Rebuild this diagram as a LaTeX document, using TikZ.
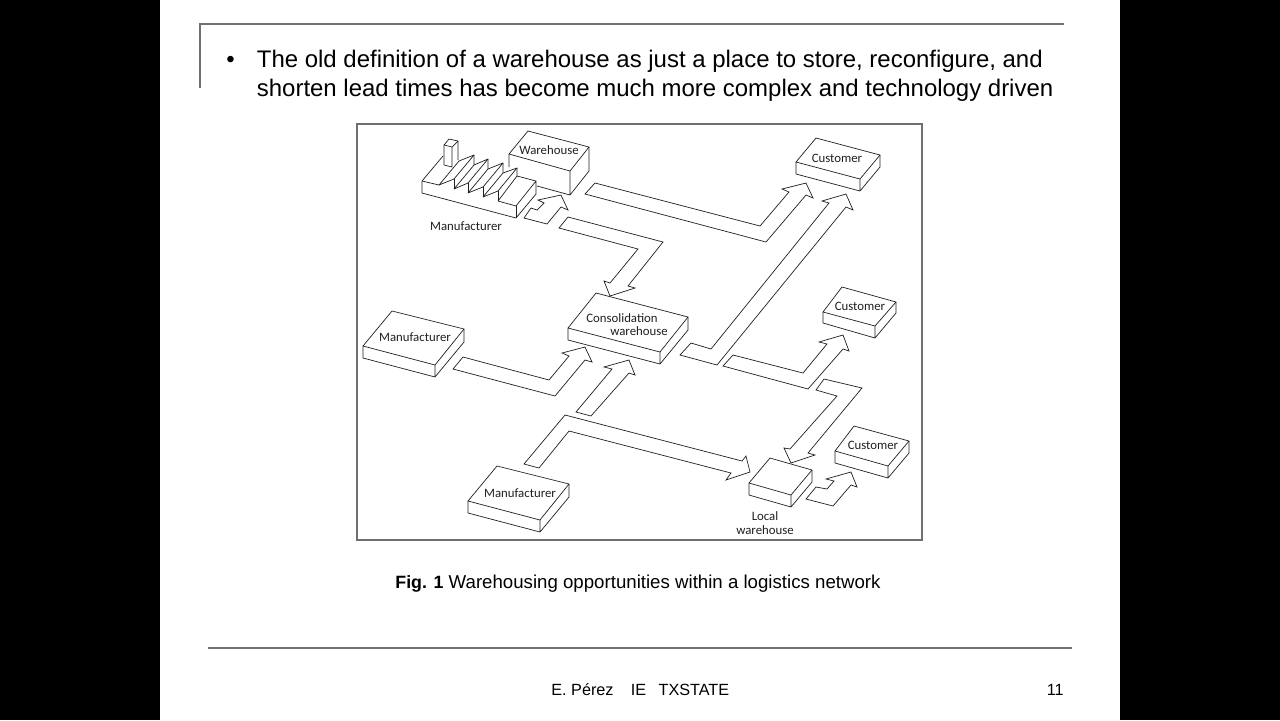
\documentclass[tikz,border=0pt]{standalone}
\usepackage{fontspec}
\setmainfont{Liberation Sans}
\newfontfamily\figfont{Carlito}
\definecolor{rulegray}{HTML}{707070}
\definecolor{framegray}{HTML}{707070}
\definecolor{inkgray}{HTML}{202020}

\tikzset{%
  % Specifications for style of nodes:
         slidetext/.style = {anchor=base west, inner sep=0pt, font=\fontsize{11.98}{14.5}\selectfont},
         captext/.style = {anchor=base west, inner sep=0pt, font=\fontsize{9.33}{11}\selectfont},
         foottext/.style = {anchor=base west, inner sep=0pt, font=\fontsize{8.1}{10}\selectfont},
         figlabel/.style = {inner sep=0pt, text=inkgray, font=\figfont\fontsize{6.4}{7}\selectfont},
  % Specifications for style of lines:
         rulebar/.style = {draw=rulegray, line width=1pt},
         isoedge/.style = {draw=inkgray, line width=0.35pt, line join=round},
         blockarrow/.style = {draw=inkgray, line width=0.35pt, line join=miter},
}

\begin{document}
\begin{tikzpicture}[x=0.5pt, y=-0.5pt]
    \useasboundingbox (0,0) rectangle (1280,720);
    \fill[white] (0,0) rectangle (1280,720);
    \fill[black] (0,0) rectangle (160,720);
    \fill[black] (1120,0) rectangle (1280,720);

    % Draw slide frame
    \draw[rulebar] (200,88) -- (200,24) -- (1064,24);
    \draw[rulebar] (208,648) -- (1072,648);
    \draw[draw=framegray, line width=0.6pt] (357,124) rectangle (922,540);

    % Draw slide text
    \node (bullet)  [slidetext] at (226,67) {•};
    \node (lineone) [slidetext] at (256.5,67) {The old definition of a warehouse as just a place to store, reconfigure, and};
    \node (linetwo) [slidetext] at (256.5,96) {shorten lead times has become much more complex and technology driven};
    \node (figcap)  [captext]   at (395,588) {{\fontsize{8.9}{11}\selectfont\bfseries Fig. 1} Warehousing opportunities within a logistics network};
    \node (author)  [foottext]  at (551,695) {E. Pérez\hspace{8.7pt}IE\hspace{6.2pt}TXSTATE};
    \node (pagenum) [foottext]  at (1046.5,695) {11};

    % Draw boxes
    \draw[isoedge] (528,131) -- (589,147) -- (570,171) -- (509,154) -- cycle;
    \draw[isoedge] (509,154) -- (509,167) (570,171) -- (570,195) -- (537,186) (589,147) -- (589,171) -- (570,195);

    \draw[isoedge] (816,138) -- (880,155) -- (860,179) -- (796,162) -- cycle;
    \draw[isoedge] (796,162) -- (796,174) -- (860,191) -- (880,167) -- (880,155) (860,179) -- (860,191);

    \draw[isoedge] (842,287) -- (896,302) -- (875,326) -- (823,312) -- cycle;
    \draw[isoedge] (823,312) -- (823,323) -- (875,338) -- (896,313) -- (896,302) (875,326) -- (875,338);

    \draw[isoedge] (854,426) -- (909,441) -- (888,466) -- (835,451) -- cycle;
    \draw[isoedge] (835,451) -- (835,463) -- (888,478) -- (909,453) -- (909,441) (888,466) -- (888,478);

    \draw[isoedge] (770,458) -- (812,470) -- (791,495) -- (749,483) -- cycle;
    \draw[isoedge] (749,483) -- (749,495) -- (791,507) -- (812,482) -- (812,470) (791,495) -- (791,507);

    \draw[isoedge] (596,293) -- (688,317) -- (660,352) -- (568,328) -- cycle;
    \draw[isoedge] (568,328) -- (568,340) -- (660,364) -- (688,330) -- (688,317) (660,352) -- (660,364);

    \draw[isoedge] (392,311) -- (464,329) -- (435,365) -- (363,346) -- cycle;
    \draw[isoedge] (363,346) -- (363,358) -- (435,377) -- (464,342) -- (464,329) (435,365) -- (435,377);

    \draw[isoedge] (497,466) -- (569,484) -- (540,520) -- (468,501) -- cycle;
    \draw[isoedge] (468,501) -- (468,513) -- (540,532) -- (569,497) -- (569,484) (540,520) -- (540,532);

    % Draw factory
    \draw[isoedge] (443,156) -- (422,181) -- (422,193) -- (516,218) -- (536,194) -- (536,181) -- (516,206) -- (498,201);
    \draw[isoedge] (422,181) -- (439,185);
    \draw[isoedge] (516,206) -- (516,218);
    \draw[isoedge] (517,176) -- (536,181);
    \draw[isoedge] (444,145) -- (449,139) -- (458,141) -- (452,147) -- cycle;
    \draw[isoedge] (444,145) -- (444,165) -- (452,167) -- (452,147) (458,141) -- (458,160);
    \draw[isoedge] (439,185) -- (459,161) -- (474,155) -- (454,179) -- cycle;
    \draw[isoedge] (454,189) -- (474,165) -- (488,159) -- (468,183) -- cycle;
    \draw[isoedge] (468,193) -- (488,169) -- (503,163) -- (483,187) -- cycle;
    \draw[isoedge] (483,197) -- (503,173) -- (517,168) -- (498,191) -- cycle;
    \draw[isoedge] (454,179) -- (454,189) (468,183) -- (468,193) (483,187) -- (483,197) (498,191) -- (498,201);
    \draw[isoedge] (474,155) -- (474,165) (488,159) -- (488,169) (503,163) -- (503,173) (517,168) -- (517,176) -- (498,201);

    % Draw arrows
    \draw[blockarrow] (524,218) -- (531,208) -- (537,210) -- (544,203) -- (538,200) -- (561,195) -- (568,210) -- (561,207) -- (547,224) -- cycle;
    \draw[blockarrow] (595,183) -- (760,226) -- (789,192) -- (782,189) -- (806,183) -- (813,198) -- (806,195) -- (766,242) -- (585,194) -- cycle;
    \draw[blockarrow] (568,217) -- (663,242) -- (628,286) -- (635,288) -- (610,296) -- (604,281) -- (610,283) -- (638,249) -- (559,228) -- cycle;
    \draw[blockarrow] (691,343) -- (711,349) -- (829,203) -- (822,201) -- (846,194) -- (853,210) -- (846,207) -- (717,365) -- (680,355) -- cycle;
    \draw[blockarrow] (733,355) -- (803,373) -- (827,344) -- (819,342) -- (843,335) -- (849,351) -- (843,349) -- (808,389) -- (723,366) -- cycle;
    \draw[blockarrow] (824,379) -- (862,388) -- (808,453) -- (815,455) -- (791,463) -- (784,448) -- (790,449) -- (837,396) -- (816,390) -- cycle;
    \draw[blockarrow] (816,487) -- (827,489) -- (834,481) -- (826,479) -- (851,472) -- (857,487) -- (851,485) -- (833,506) -- (806,499) -- cycle;
    \draw[blockarrow] (463,357) -- (549,380) -- (569,356) -- (562,353) -- (585,347) -- (592,362) -- (585,360) -- (555,396) -- (453,369) -- cycle;
    \draw[blockarrow] (576,412) -- (612,369) -- (604,367) -- (629,360) -- (635,375) -- (629,373) -- (591,416) -- cycle;
    \draw[blockarrow] (524,464) -- (565,415) -- (742,461) -- (746,456) -- (750,472) -- (726,480) -- (731,473) -- (569,431) -- (539,468) -- cycle;

    % Draw labels
    \node (warehouse)   [figlabel] at (549,150) {Warehouse};
    \node (customera)   [figlabel] at (837,158) {Customer};
    \node (customerb)   [figlabel] at (860,306) {Customer};
    \node (customerc)   [figlabel] at (873,445) {Customer};
    \node (factory)     [figlabel] at (466,226) {Manufacturer};
    \node (makerleft)   [figlabel] at (415,337) {Manufacturer};
    \node (makerlow)    [figlabel] at (520,493) {Manufacturer};
    \node (consolid)    [figlabel] at (622,318) {Consolidation};
    \node (consolidb)   [figlabel] at (639,331) {warehouse};
    \node (local)       [figlabel] at (765,516) {Local};
    \node (localb)      [figlabel] at (765,530) {warehouse};
\end{tikzpicture}
\end{document}
